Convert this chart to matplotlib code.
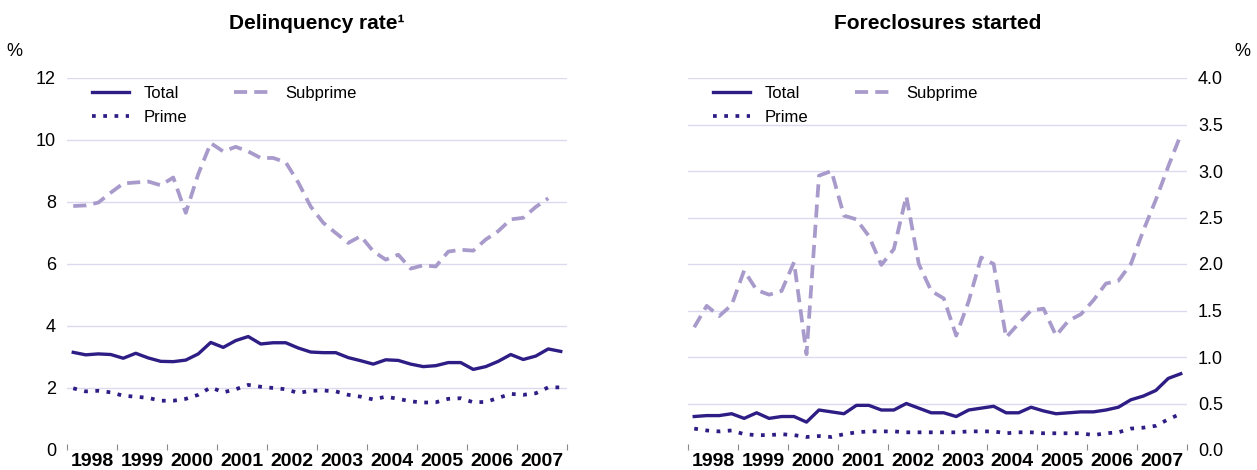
import numpy as np
import matplotlib
matplotlib.use("Agg")
import matplotlib.pyplot as plt
from matplotlib.ticker import FixedLocator, FormatStrFormatter

plt.rcParams["font.family"] = ["Liberation Sans", "DejaVu Sans"]

# Quarterly data, 1998 Q1 - 2007 Q4
years = list(range(1998, 2008))
quarters = [y + (q + 0.5) / 4 for y in years for q in range(4)]

delinq_total = [3.15, 3.07, 3.10, 3.08, 2.96, 3.12, 2.97, 2.86, 2.85, 2.90,
                3.10, 3.47, 3.31, 3.53, 3.66, 3.42, 3.46, 3.46, 3.29, 3.16,
                3.14, 3.14, 2.98, 2.88, 2.77, 2.91, 2.89, 2.77, 2.69, 2.72,
                2.82, 2.82, 2.60, 2.69, 2.86, 3.08, 2.92, 3.03, 3.26, 3.18]
delinq_prime = [1.99, 1.89, 1.91, 1.86, 1.75, 1.72, 1.68, 1.59, 1.59, 1.65,
                1.78, 2.02, 1.86, 1.96, 2.10, 2.04, 2.00, 1.96, 1.84, 1.91,
                1.92, 1.89, 1.78, 1.72, 1.63, 1.72, 1.65, 1.57, 1.53, 1.54,
                1.65, 1.67, 1.54, 1.55, 1.68, 1.81, 1.78, 1.83, 2.02, 2.02]
delinq_subprime = [7.87, 7.89, 7.98, 8.30, 8.60, 8.63, 8.66, 8.54, 8.79, 7.65,
                   8.90, 9.90, 9.63, 9.78, 9.63, 9.42, 9.42, 9.28, 8.63, 7.85,
                   7.33, 7.00, 6.68, 6.90, 6.41, 6.14, 6.30, 5.85, 5.96, 5.92,
                   6.40, 6.46, 6.43, 6.79, 7.06, 7.44, 7.49, 7.84, 8.12, np.nan]

fc_total = [0.36, 0.37, 0.37, 0.39, 0.34, 0.40, 0.34, 0.36, 0.36, 0.30,
            0.43, 0.41, 0.39, 0.48, 0.48, 0.43, 0.43, 0.50, 0.45, 0.40,
            0.40, 0.36, 0.43, 0.45, 0.47, 0.40, 0.40, 0.46, 0.42, 0.39,
            0.40, 0.41, 0.41, 0.43, 0.46, 0.54, 0.58, 0.64, 0.77, 0.82]
fc_prime = [0.23, 0.21, 0.20, 0.21, 0.17, 0.16, 0.16, 0.17, 0.16, 0.14,
            0.15, 0.14, 0.17, 0.19, 0.20, 0.20, 0.20, 0.19, 0.19, 0.19,
            0.19, 0.19, 0.20, 0.20, 0.20, 0.18, 0.19, 0.19, 0.18, 0.18,
            0.18, 0.18, 0.16, 0.18, 0.19, 0.23, 0.24, 0.26, 0.33, 0.39]
fc_subprime = [1.32, 1.55, 1.44, 1.56, 1.93, 1.72, 1.67, 1.71, 2.02, 1.03,
               2.95, 3.00, 2.52, 2.48, 2.30, 1.99, 2.16, 2.73, 2.00, 1.71,
               1.63, 1.23, 1.60, 2.07, 2.00, 1.21, 1.36, 1.50, 1.52, 1.23,
               1.39, 1.46, 1.61, 1.79, 1.82, 2.00, 2.36, 2.69, 3.05, 3.39]

DARK = "#2e1d84"
LIGHT = "#a89bcb"
GRID = "#dddaf0"

fig = plt.figure(figsize=(12.57, 4.70), dpi=100)
ax1 = fig.add_axes([67 / 1257, 20 / 470, 500 / 1257, 372 / 470])
ax2 = fig.add_axes([688 / 1257, 20 / 470, 499 / 1257, 372 / 470])


def draw_panel(ax, total, prime, subprime, ymax, ystep, title, right=False):
    ax.plot(quarters, total, color=DARK, lw=2.4, solid_joinstyle="round",
            label="Total", zorder=4)
    ax.plot(quarters, prime, color=DARK, lw=2.7,
            linestyle=(0, (1.0, 2.0)), dash_capstyle="butt", label="Prime", zorder=4)
    ax.plot(quarters, subprime, color=LIGHT, lw=2.7,
            linestyle=(0, (3.5, 1.9)), dash_capstyle="butt", label="Subprime", zorder=3)

    ax.set_xlim(1998, 2008)
    ax.set_ylim(0, ymax)
    ax.set_yticks(np.arange(0, ymax + ystep / 2, ystep))
    ax.yaxis.grid(True, color=GRID, lw=1.0)
    ax.set_axisbelow(True)
    for s in ax.spines.values():
        s.set_visible(False)

    ax.xaxis.set_major_locator(FixedLocator([y + 0.5 for y in years]))
    ax.set_xticklabels([str(y) for y in years], fontsize=14, fontweight="bold")
    ax.xaxis.set_minor_locator(FixedLocator(list(range(1998, 2009))))
    ax.tick_params(axis="x", which="major", length=0, pad=2)
    ax.tick_params(axis="x", which="minor", length=4, width=0.8,
                   direction="in", color="#888888")
    ax.tick_params(axis="y", length=0, labelsize=13, pad=8)

    if right:
        ax.yaxis.tick_right()
        ax.yaxis.set_major_formatter(FormatStrFormatter("%.1f"))
        ax.text(1.11, 1.07, "%", transform=ax.transAxes, fontsize=13,
                ha="center", va="center")
    else:
        ax.text(-0.105, 1.07, "%", transform=ax.transAxes, fontsize=13,
                ha="center", va="center")

    ax.set_title(title, fontsize=15, fontweight="bold", pad=35)

    ax.legend(ncol=2, loc="upper left", bbox_to_anchor=(0.05, 0.978),
              frameon=False, fontsize=12, handlelength=2.2,
              handletextpad=0.9, columnspacing=2.8, labelspacing=0.52,
              borderpad=0, borderaxespad=0)


draw_panel(ax1, delinq_total, delinq_prime, delinq_subprime, 12, 2,
           "Delinquency rate\u00b9")
draw_panel(ax2, fc_total, fc_prime, fc_subprime, 4.0, 0.5,
           "Foreclosures started", right=True)

fig.savefig("out.png", dpi=100)
